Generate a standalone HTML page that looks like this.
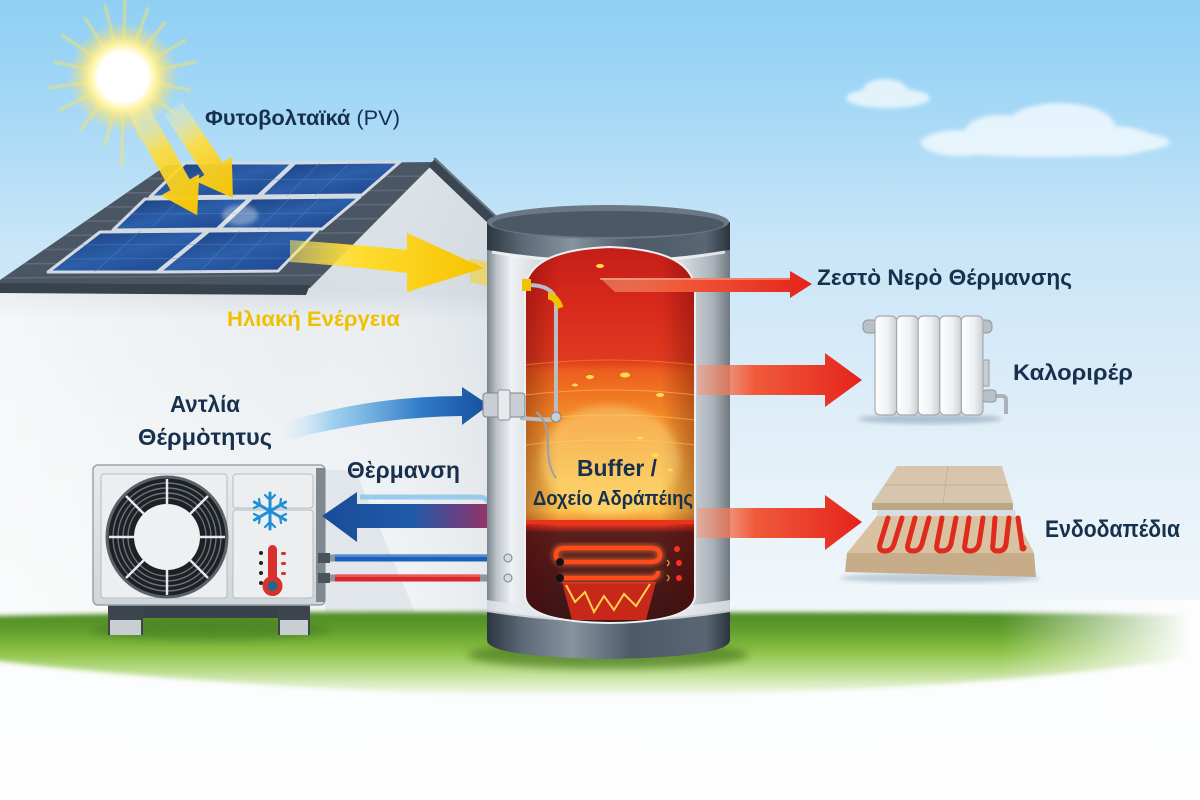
<!DOCTYPE html>
<html><head><meta charset="utf-8"><style>html,body{margin:0;padding:0;background:#fdfdfd}svg{display:block}</style></head>
<body>
<svg width="1200" height="800" viewBox="0 0 1200 800" xmlns="http://www.w3.org/2000/svg" font-family="'Liberation Sans','DejaVu Sans',sans-serif">
<defs>
 <linearGradient id="sky" x1="0" y1="0" x2="0" y2="800" gradientUnits="userSpaceOnUse">
  <stop offset="0" stop-color="#8fcff4"/>
  <stop offset="0.12" stop-color="#a2d7f6"/>
  <stop offset="0.3" stop-color="#c8e5f7"/>
  <stop offset="0.55" stop-color="#e2eff8"/>
  <stop offset="0.74" stop-color="#eff6fa"/>
  <stop offset="0.84" stop-color="#fcfdfe"/>
  <stop offset="1" stop-color="#fdfdfd"/>
 </linearGradient>
 <linearGradient id="wall" x1="0" y1="160" x2="0" y2="630" gradientUnits="userSpaceOnUse">
  <stop offset="0" stop-color="#dce3e8"/>
  <stop offset="0.28" stop-color="#d6dde3"/>
  <stop offset="0.34" stop-color="#eaeef1"/>
  <stop offset="1" stop-color="#f5f7f8"/>
 </linearGradient>
 <linearGradient id="wallH" x1="0" y1="0" x2="495" y2="0" gradientUnits="userSpaceOnUse">
  <stop offset="0" stop-color="#ffffff" stop-opacity="0.5"/>
  <stop offset="0.6" stop-color="#ffffff" stop-opacity="0"/>
  <stop offset="1" stop-color="#c9d1d8" stop-opacity="0.35"/>
 </linearGradient>
 <linearGradient id="panel" x1="0" y1="0" x2="1" y2="1">
  <stop offset="0" stop-color="#1a3c7c"/>
  <stop offset="0.5" stop-color="#2c5ea9"/>
  <stop offset="1" stop-color="#1b418a"/>
 </linearGradient>
 <radialGradient id="sunGlow" cx="0.5" cy="0.5" r="0.5">
  <stop offset="0" stop-color="#ffffff"/>
  <stop offset="0.45" stop-color="#ffffff"/>
  <stop offset="0.6" stop-color="#fff3a0"/>
  <stop offset="0.8" stop-color="#ffe46a" stop-opacity="0.45"/>
  <stop offset="1" stop-color="#ffe46a" stop-opacity="0"/>
 </radialGradient>
 <linearGradient id="ya" x1="0" y1="0" x2="1" y2="0">
  <stop offset="0" stop-color="#fff6b0" stop-opacity="0.2"/>
  <stop offset="0.4" stop-color="#ffdc3a" stop-opacity="0.9"/>
  <stop offset="1" stop-color="#f5c400"/>
 </linearGradient>
 <linearGradient id="yBig" x1="290" y1="0" x2="484" y2="0" gradientUnits="userSpaceOnUse">
  <stop offset="0" stop-color="#ffe860" stop-opacity="0.55"/>
  <stop offset="0.35" stop-color="#ffdc30"/>
  <stop offset="1" stop-color="#f6c300"/>
 </linearGradient>
 <linearGradient id="blueArr" x1="265" y1="0" x2="488" y2="0" gradientUnits="userSpaceOnUse">
  <stop offset="0" stop-color="#ffffff" stop-opacity="0"/>
  <stop offset="0.3" stop-color="#8cc8ee" stop-opacity="0.8"/>
  <stop offset="0.7" stop-color="#2e7bc8"/>
  <stop offset="1" stop-color="#174e9c"/>
 </linearGradient>
 <linearGradient id="dblArr" x1="322" y1="0" x2="522" y2="0" gradientUnits="userSpaceOnUse">
  <stop offset="0" stop-color="#1a4c98"/>
  <stop offset="0.45" stop-color="#1f5aa8"/>
  <stop offset="0.75" stop-color="#7a3a78"/>
  <stop offset="1" stop-color="#d62a40"/>
 </linearGradient>
 <linearGradient id="redArr" x1="0" y1="0" x2="1" y2="0">
  <stop offset="0" stop-color="#f49a7a" stop-opacity="0.55"/>
  <stop offset="0.35" stop-color="#f05a3a"/>
  <stop offset="1" stop-color="#e5231c"/>
 </linearGradient>
 <linearGradient id="unitG" x1="0" y1="0" x2="0" y2="1">
  <stop offset="0" stop-color="#e9ecee"/>
  <stop offset="1" stop-color="#d0d5d9"/>
 </linearGradient>
 <linearGradient id="tankBody" x1="487" y1="0" x2="730" y2="0" gradientUnits="userSpaceOnUse">
  <stop offset="0" stop-color="#7b848c"/>
  <stop offset="0.04" stop-color="#bcc3c9"/>
  <stop offset="0.1" stop-color="#eff2f4"/>
  <stop offset="0.22" stop-color="#d3d8dc"/>
  <stop offset="0.5" stop-color="#c6ccd1"/>
  <stop offset="0.8" stop-color="#dadee2"/>
  <stop offset="0.93" stop-color="#aab2b9"/>
  <stop offset="1" stop-color="#6f7880"/>
 </linearGradient>
 <linearGradient id="tankDark" x1="487" y1="0" x2="730" y2="0" gradientUnits="userSpaceOnUse">
  <stop offset="0" stop-color="#2c3640"/>
  <stop offset="0.15" stop-color="#5d6b78"/>
  <stop offset="0.35" stop-color="#8794a0"/>
  <stop offset="0.6" stop-color="#4c5966"/>
  <stop offset="0.9" stop-color="#5a6673"/>
  <stop offset="1" stop-color="#2a343e"/>
 </linearGradient>
 <linearGradient id="inner" x1="0" y1="247" x2="0" y2="623" gradientUnits="userSpaceOnUse">
  <stop offset="0" stop-color="#c41e18"/>
  <stop offset="0.15" stop-color="#d8281c"/>
  <stop offset="0.3" stop-color="#de3a1e"/>
  <stop offset="0.33" stop-color="#ec5e1e"/>
  <stop offset="0.45" stop-color="#f38c28"/>
  <stop offset="0.62" stop-color="#f9b844"/>
  <stop offset="0.7" stop-color="#fbc24c"/>
  <stop offset="0.725" stop-color="#f29a36"/>
  <stop offset="0.74" stop-color="#e2301e"/>
  <stop offset="0.76" stop-color="#5a1e1c"/>
  <stop offset="1" stop-color="#3a1414"/>
 </linearGradient>
 <linearGradient id="innerEdge" x1="525" y1="0" x2="695" y2="0" gradientUnits="userSpaceOnUse">
  <stop offset="0" stop-color="#500000" stop-opacity="0.35"/>
  <stop offset="0.2" stop-color="#500000" stop-opacity="0"/>
  <stop offset="0.8" stop-color="#500000" stop-opacity="0"/>
  <stop offset="1" stop-color="#500000" stop-opacity="0.35"/>
 </linearGradient>
 <linearGradient id="grass" x1="0" y1="612" x2="0" y2="700" gradientUnits="userSpaceOnUse">
  <stop offset="0" stop-color="#4c8a24"/>
  <stop offset="0.22" stop-color="#62a02e"/>
  <stop offset="0.45" stop-color="#8cc244"/>
  <stop offset="0.65" stop-color="#b6da84"/>
  <stop offset="0.85" stop-color="#e0f0cc"/>
  <stop offset="1" stop-color="#fdfdfd"/>
 </linearGradient>
 <linearGradient id="grassFade" x1="1000" y1="0" x2="1190" y2="0" gradientUnits="userSpaceOnUse">
  <stop offset="0" stop-color="#fdfdfd" stop-opacity="0"/>
  <stop offset="1" stop-color="#fdfdfd" stop-opacity="1"/>
 </linearGradient>
 <linearGradient id="radSec" x1="0" y1="0" x2="1" y2="0">
  <stop offset="0" stop-color="#ffffff"/>
  <stop offset="0.6" stop-color="#eef0f2"/>
  <stop offset="1" stop-color="#c9cfd4"/>
 </linearGradient>
 <filter id="b2" x="-20%" y="-20%" width="140%" height="140%"><feGaussianBlur stdDeviation="2"/></filter>
 <filter id="b3" x="-5%" y="-20%" width="110%" height="140%"><feGaussianBlur stdDeviation="2.5"/></filter>
 <filter id="b4" x="-30%" y="-30%" width="160%" height="160%"><feGaussianBlur stdDeviation="4"/></filter>
 <filter id="b1"><feGaussianBlur stdDeviation="1"/></filter>
 <clipPath id="roofClip"><polygon points="0,280 167,165 435,162 310,288 0,288"/></clipPath>
 <clipPath id="innerClip"><path d="M525,292 Q525,250 610,247 Q695,250 695,292 L695,595 Q695,622 610,623 Q525,622 525,595 Z"/></clipPath>
</defs>

<!-- sky -->
<rect width="1200" height="800" fill="url(#sky)"/>

<!-- clouds -->
<g fill="#ffffff" opacity="0.7" filter="url(#b2)">
 <ellipse cx="888" cy="98" rx="42" ry="10"/>
 <ellipse cx="885" cy="90" rx="22" ry="11"/>
 <ellipse cx="1045" cy="142" rx="125" ry="15"/>
 <ellipse cx="1060" cy="127" rx="55" ry="24"/>
 <ellipse cx="1000" cy="132" rx="35" ry="17"/>
 <ellipse cx="960" cy="143" rx="38" ry="13"/>
 <ellipse cx="1110" cy="141" rx="45" ry="15"/>
</g>

<!-- sun -->
<g stroke="#ffe55a" stroke-width="2" opacity="0.8" filter="url(#b1)" stroke-linecap="round">
 <line x1="123" y1="77" x2="125" y2="-5"/>
 <line x1="123" y1="77" x2="148" y2="8"/>
 <line x1="123" y1="77" x2="165" y2="22"/>
 <line x1="123" y1="77" x2="185" y2="40"/>
 <line x1="123" y1="77" x2="195" y2="62"/>
 <line x1="123" y1="77" x2="190" y2="90"/>
 <line x1="123" y1="77" x2="178" y2="115"/>
 <line x1="123" y1="77" x2="140" y2="140"/>
 <line x1="123" y1="77" x2="122" y2="165"/>
 <line x1="123" y1="77" x2="105" y2="145"/>
 <line x1="123" y1="77" x2="80" y2="130"/>
 <line x1="123" y1="77" x2="60" y2="110"/>
 <line x1="123" y1="77" x2="48" y2="88"/>
 <line x1="123" y1="77" x2="55" y2="62"/>
 <line x1="123" y1="77" x2="62" y2="35"/>
 <line x1="123" y1="77" x2="85" y2="18"/>
 <line x1="123" y1="77" x2="105" y2="5"/>
</g>
<circle cx="123" cy="77" r="55" fill="url(#sunGlow)"/>

<!-- house wall -->
<polygon points="0,285 433,168 495,228 495,628 0,628" fill="url(#wall)"/>
<polygon points="0,285 433,168 495,228 495,628 0,628" fill="url(#wallH)"/>
<polygon points="325,470 355,470 415,612 325,612" fill="#d7dee4" opacity="0.6"/>

<!-- roof -->
<polygon points="0,280 167,165 435,162 310,288 0,288" fill="#4a5663"/>
<g clip-path="url(#roofClip)" stroke="#5f6c78" stroke-width="1.5">
 <line x1="0" y1="180" x2="440" y2="176"/>
 <line x1="0" y1="194" x2="440" y2="190"/>
 <line x1="0" y1="208" x2="440" y2="204"/>
 <line x1="0" y1="222" x2="440" y2="218"/>
 <line x1="0" y1="236" x2="440" y2="232"/>
 <line x1="0" y1="250" x2="440" y2="246"/>
 <line x1="0" y1="264" x2="440" y2="260"/>
 <line x1="0" y1="278" x2="440" y2="274"/>
</g>
<polygon points="0,283 310,285 306,295 0,293" fill="#37424d"/>
<line x1="432" y1="162" x2="500" y2="227" stroke="#3a4652" stroke-width="11"/>
<line x1="434" y1="158" x2="502" y2="222" stroke="#6a7784" stroke-width="2"/>

<!-- solar panels -->
<g stroke="#d3dae1" stroke-width="3" fill="url(#panel)" stroke-linejoin="round">
 <polygon points="185,163 293,163 258,196 150,197"/>
 <polygon points="295,163 400,162 362,195 260,196"/>
 <polygon points="145,199 250,198 217,229 113,230"/>
 <polygon points="252,198 360,197 322,229 219,229"/>
 <polygon points="100,232 207,231 157,272 48,272"/>
 <polygon points="209,231 318,230 278,271 159,272"/>
</g>
<g stroke="#5d8cc8" stroke-width="0.8" opacity="0.5">
 <line x1="175" y1="180" x2="380" y2="179"/>
 <line x1="130" y1="214" x2="340" y2="213"/>
 <line x1="80" y1="245" x2="305" y2="244"/>
 <line x1="70" y1="259" x2="292" y2="258"/>
 <line x1="320" y1="163" x2="287" y2="196"/>
 <line x1="350" y1="163" x2="315" y2="196"/>
 <line x1="240" y1="231" x2="200" y2="271"/>
 <line x1="270" y1="231" x2="230" y2="271"/>
 <line x1="140" y1="231" x2="95" y2="272"/>
 <line x1="290" y1="198" x2="258" y2="229"/>
 <line x1="320" y1="198" x2="288" y2="229"/>
 <line x1="180" y1="199" x2="150" y2="229"/>
</g>
<ellipse cx="240" cy="215" rx="18" ry="10" fill="#ffffff" opacity="0.35" filter="url(#b2)"/>

<!-- sun arrows -->
<g transform="translate(137,108) rotate(60.7)">
 <path d="M0,-11 L88,-11 L88,-22 L123,0 L88,22 L88,11 L0,11Z" fill="url(#ya)"/>
</g>
<g transform="translate(173,108) rotate(56.3)">
 <path d="M0,-11 L73,-11 L73,-22 L108,0 L73,22 L73,11 L0,11Z" fill="url(#ya)"/>
</g>

<!-- big yellow arrow -->
<polygon points="470,258 530,272 530,296 470,282" fill="#f5d020" opacity="0.55"/>
<path d="M290,240 Q350,244 407,250 L407,233 L484,268 L407,292 L407,273 Q350,266 290,262 Z" fill="url(#yBig)"/>

<!-- grass -->
<g filter="url(#b3)">
 <path d="M-10,616 Q300,610 600,613 Q900,611 1210,615 L1210,655 Q1000,688 700,694 Q600,696 400,692 Q150,680 -10,660 Z" fill="url(#grass)"/>
</g>
<rect x="990" y="600" width="210" height="110" fill="url(#grassFade)"/>
<ellipse cx="210" cy="630" rx="120" ry="10" fill="#3d6e1a" opacity="0.45" filter="url(#b4)"/>
<ellipse cx="608" cy="655" rx="140" ry="14" fill="#3a6818" opacity="0.55" filter="url(#b4)"/>

<!-- heat pump unit -->
<rect x="108" y="603" width="202" height="15" fill="#39424a"/>
<rect x="108" y="603" width="35" height="32" fill="#3c454d"/>
<rect x="110" y="620" width="31" height="15" fill="#c9ced2"/>
<rect x="278" y="603" width="32" height="32" fill="#3c454d"/>
<rect x="280" y="620" width="28" height="15" fill="#c9ced2"/>
<rect x="93" y="465" width="232" height="140" rx="5" fill="url(#unitG)" stroke="#9aa3aa" stroke-width="1.5"/>
<rect x="316" y="468" width="9" height="134" fill="#80898f"/>
<rect x="101" y="474" width="126" height="124" rx="3" fill="#eceef0" stroke="#b5bcc2"/>
<rect x="233" y="474" width="80" height="34" rx="3" fill="#eceef0" stroke="#b5bcc2"/>
<rect x="233" y="510" width="80" height="88" rx="3" fill="#eceef0" stroke="#b5bcc2"/>
<circle cx="167" cy="537" r="60" fill="#1d2125" stroke="#5a6268" stroke-width="3"/>
<g fill="none" stroke="#6b737a" stroke-width="1.4">
 <circle cx="167" cy="537" r="54"/><circle cx="167" cy="537" r="49"/>
 <circle cx="167" cy="537" r="44"/><circle cx="167" cy="537" r="39"/>
</g>
<g stroke="#e6eaed" stroke-width="2.5">
 <line x1="167" y1="504" x2="167" y2="479"/>
 <line x1="190" y1="514" x2="208" y2="496"/>
 <line x1="200" y1="537" x2="225" y2="537"/>
 <line x1="190" y1="560" x2="208" y2="578"/>
 <line x1="167" y1="570" x2="167" y2="595"/>
 <line x1="144" y1="560" x2="126" y2="578"/>
 <line x1="134" y1="537" x2="109" y2="537"/>
 <line x1="144" y1="514" x2="126" y2="496"/>
</g>
<circle cx="167" cy="537" r="33" fill="#eef0f2"/>
<!-- snowflake -->
<g stroke="#1e8fd4" stroke-width="3" stroke-linecap="round" transform="translate(270,511)">
 <line x1="0" y1="-18" x2="0" y2="18"/>
 <line x1="-15.6" y1="-9" x2="15.6" y2="9"/>
 <line x1="-15.6" y1="9" x2="15.6" y2="-9"/>
 <path d="M-5,-16 L0,-11 L5,-16 M-5,16 L0,11 L5,16 M-16,-3 L-10,-6 L-11,-12 M16,3 L10,6 L11,12 M-16,3 L-10,6 L-11,12 M16,-3 L10,-6 L11,-12" fill="none" stroke-width="2.2"/>
</g>
<!-- thermometer -->
<rect x="268" y="545" width="9" height="38" rx="4.5" fill="#d8302c"/>
<circle cx="272.5" cy="586" r="10" fill="#d8302c"/>
<circle cx="272.5" cy="586" r="5" fill="#1f6a8a"/>
<g fill="#222"><circle cx="261" cy="553" r="2"/><circle cx="261" cy="563" r="2"/><circle cx="261" cy="573" r="2"/><circle cx="261" cy="583" r="2"/></g>
<g fill="#d8302c"><rect x="281" y="552" width="5" height="3" rx="1.5"/><rect x="281" y="562" width="5" height="3" rx="1.5"/><rect x="281" y="572" width="5" height="3" rx="1.5"/></g>

<!-- pipes from unit -->
<rect x="318" y="553" width="12" height="10" fill="#4a535b"/>
<rect x="318" y="573" width="12" height="10" fill="#4a535b"/>
<line x1="330" y1="558" x2="565" y2="558" stroke="#8d949a" stroke-width="7"/>
<line x1="330" y1="578" x2="565" y2="578" stroke="#8d949a" stroke-width="7"/>
<line x1="335" y1="558" x2="492" y2="558" stroke="#1f5fb8" stroke-width="7"/>
<line x1="335" y1="556" x2="492" y2="556" stroke="#5c9ae0" stroke-width="1.5"/>
<line x1="335" y1="578" x2="480" y2="578" stroke="#d8262a" stroke-width="7"/>
<line x1="335" y1="576" x2="480" y2="576" stroke="#f06a6a" stroke-width="1.5"/>

<!-- heat pump blue arrow -->
<path d="M268,428 Q360,396 462,396 L462,387 L489,405 L462,425 L462,416 Q370,417 272,444 Z" fill="url(#blueArr)"/>

<!-- double arrow -->
<path d="M360,497 L478,497 Q490,497 490,509 L490,560" fill="none" stroke="#8ec8ea" stroke-width="5" opacity="0.9"/>
<path d="M322,516 L357,492 L357,504 L495,504 L495,500 L523,519 L495,540 L495,528 L357,528 L357,542 Z" fill="url(#dblArr)"/>

<!-- tank -->
<path d="M487,232 L730,232 L730,640 Q730,656 608,658 Q487,656 487,640 Z" fill="url(#tankBody)"/>
<path d="M487,610 Q608,630 730,610 L730,640 Q730,657 608,659 Q487,657 487,640 Z" fill="url(#tankDark)"/>
<path d="M487,600 Q608,620 730,600 L730,612 Q608,632 487,612 Z" fill="#e6eaed" opacity="0.8"/>
<path d="M487,222 L487,250 Q608,270 730,250 L730,222 Z" fill="url(#tankDark)"/>
<ellipse cx="608" cy="222" rx="121" ry="17" fill="#6a7784"/>
<ellipse cx="608" cy="224" rx="116" ry="13" fill="#4b5865"/>
<path d="M492,252 Q608,272 725,252" fill="none" stroke="#f0f3f5" stroke-width="3" opacity="0.8"/>

<!-- tank inner -->
<g clip-path="url(#innerClip)">
 <rect x="520" y="240" width="180" height="390" fill="url(#inner)"/>
 <rect x="520" y="240" width="180" height="390" fill="url(#innerEdge)"/>
 <ellipse cx="610" cy="460" rx="70" ry="55" fill="#fff0a0" opacity="0.35" filter="url(#b4)"/>
 <g stroke="#ffcf70" stroke-width="1" opacity="0.5" fill="none">
  <path d="M525,395 Q610,385 695,395"/><path d="M525,420 Q610,410 695,420"/>
  <path d="M525,445 Q610,435 695,445"/><path d="M525,365 Q610,355 695,365" stroke="#f6a040"/>
 </g>
 <g fill="#ffdc50">
  <ellipse cx="590" cy="377" rx="4" ry="2"/><ellipse cx="625" cy="375" rx="5" ry="2.5"/>
  <ellipse cx="575" cy="385" rx="3" ry="1.5"/><ellipse cx="660" cy="395" rx="4" ry="2"/>
  <ellipse cx="655" cy="455" rx="4" ry="2"/><ellipse cx="640" cy="438" rx="3" ry="1.5"/>
  <ellipse cx="600" cy="266" rx="4" ry="2"/><ellipse cx="670" cy="470" rx="3" ry="1.5"/>
 </g>
 <line x1="525" y1="522" x2="695" y2="522" stroke="#e8341c" stroke-width="4"/>
 <!-- flame -->
 <polygon points="562,582 656,582 646,620 572,620" fill="#c8281a"/>
 <polyline points="566,585 575,602 585,592 594,612 604,596 614,610 624,594 636,606 650,584" fill="none" stroke="#ffd04a" stroke-width="2"/>
 <!-- coil -->
 <path d="M565,562 Q556,562 556,555 Q556,548 565,548 L650,548 Q660,548 660,555 Q660,562 650,562 L565,562 M560,578 L650,578 Q658,578 658,571" fill="none" stroke="#ff8040" stroke-width="9" opacity="0.45" filter="url(#b2)"/>
 <path d="M565,562 Q556,562 556,555 Q556,548 565,548 L650,548 Q660,548 660,555 Q660,562 650,562 L565,562 M560,578 L650,578 Q658,578 658,571" fill="none" stroke="#ff4a1a" stroke-width="4.5"/>
 <circle cx="560" cy="562" r="4" fill="#111"/>
 <circle cx="560" cy="578" r="4" fill="#111"/>
 <g fill="#ff3020"><circle cx="677" cy="549" r="3"/><circle cx="679" cy="563" r="3"/><circle cx="679" cy="578" r="3"/></g>
 <g fill="none" stroke="#e6a030" stroke-width="1.2"><path d="M667,560 q4,3 0,6"/><path d="M667,575 q4,3 0,6"/></g>
</g>
<path d="M525,292 Q525,250 610,247 Q695,250 695,292 L695,595 Q695,622 610,623 Q525,622 525,595 Z" fill="none" stroke="#eef1f3" stroke-width="2"/>
<circle cx="508" cy="558" r="4" fill="#d6dbdf" stroke="#7a8288"/>
<circle cx="508" cy="578" r="4" fill="#d6dbdf" stroke="#7a8288"/>

<!-- internal pipe + fitting -->
<path d="M528,285 Q552,285 556,300 L556,412 Q556,420 548,420 L520,418" fill="none" stroke="#b8bec4" stroke-width="4"/>
<rect x="522" y="279" width="9" height="12" fill="#f2c200"/>
<path d="M548,296 Q556,296 560,308" fill="none" stroke="#f2c200" stroke-width="7"/>
<circle cx="556" cy="417" r="5" fill="#c8ced3" stroke="#7d858c"/>
<path d="M536,412 Q548,420 548,445 Q548,468 556,478" fill="none" stroke="#9aa2a8" stroke-width="2"/>
<rect x="483" y="393" width="42" height="24" rx="3" fill="#c8ced3" stroke="#7d858c"/>
<rect x="498" y="390" width="12" height="30" rx="2" fill="#e6eaed" stroke="#8a9299"/>

<!-- right arrows -->
<polygon points="600,278 790,278 790,271 812,284 790,298 790,292 615,292" fill="url(#redArr)"/>
<line x1="600" y1="279" x2="790" y2="279" stroke="#ffd0b0" stroke-width="1.2" opacity="0.7"/>
<polygon points="697,365 825,365 825,353 862,380 825,407 825,395 697,395" fill="url(#redArr)"/>
<polygon points="697,508 825,508 825,495 862,522 825,550 825,538 697,538" fill="url(#redArr)"/>

<!-- radiator -->
<ellipse cx="930" cy="419" rx="72" ry="5" fill="#8fa3b6" opacity="0.6" filter="url(#b2)"/>
<rect x="863" y="320" width="15" height="13" rx="5" fill="#b9c0c6" stroke="#8f989f"/>
<rect x="979" y="320" width="13" height="13" rx="5" fill="#b9c0c6" stroke="#8f989f"/>
<rect x="983" y="360" width="6" height="26" fill="#c8ced3" stroke="#98a0a6"/>
<path d="M996,396 L1002,396 Q1006,396 1006,400 L1006,414" fill="none" stroke="#aab2b8" stroke-width="4"/>
<rect x="983" y="390" width="13" height="12" rx="3" fill="#b9c0c6" stroke="#8f989f"/>
<g fill="url(#radSec)" stroke="#a3abb2" stroke-width="1.2">
 <rect x="875" y="316" width="21.6" height="99" rx="5"/>
 <rect x="896.6" y="316" width="21.6" height="99" rx="5"/>
 <rect x="918.2" y="316" width="21.6" height="99" rx="5"/>
 <rect x="939.8" y="316" width="21.6" height="99" rx="5"/>
 <rect x="961.4" y="316" width="21.6" height="99" rx="5"/>
</g>

<!-- floor -->
<ellipse cx="940" cy="578" rx="100" ry="5" fill="#8fa3b6" opacity="0.5" filter="url(#b2)"/>
<polygon points="877,516 1015,516 1034,553 847,553" fill="#d8c2a2"/>
<polygon points="847,553 1034,553 1036,577 845,572" fill="#c6ac89"/>
<polygon points="877,510 1015,510 1016,516 877,516" fill="#d8dde2"/>
<polygon points="872,503 897,466 1002,466 1013,503" fill="#d7c6ad"/>
<line x1="948" y1="466" x2="943" y2="503" stroke="#c4b197" stroke-width="1"/>
<line x1="885" y1="485" x2="1008" y2="485" stroke="#c4b197" stroke-width="1"/>
<polygon points="872,503 1013,503 1013,510 872,510" fill="#bba786"/>
<g fill="none" stroke="#e02a1e" stroke-width="5" stroke-linecap="round">
 <path d="M888,518 L880,544 Q878,551 885,551 Q892,551 894,544 L902,518"/>
 <path d="M915,518 L908,544 Q906,551 913,551 Q920,551 922,544 L929,518"/>
 <path d="M942,518 L937,544 Q935,551 942,551 Q949,551 951,544 L956,518"/>
 <path d="M969,518 L965,544 Q963,551 970,551 Q977,551 979,544 L983,518"/>
 <path d="M995,518 L993,544 Q991,551 998,551 Q1005,551 1006,544 L1009,518"/>
 <path d="M1018,518 L1022,546"/>
</g>
<circle cx="1023" cy="548" r="3.5" fill="#e02a1e"/>

<!-- labels -->
<text x="205" y="125" font-size="21" font-weight="bold" fill="#17304e" textLength="195" lengthAdjust="spacingAndGlyphs">Φυτοβολταϊκά <tspan font-weight="normal">(PV)</tspan></text>
<text x="227" y="326" font-size="21" font-weight="bold" fill="#f0c000" textLength="173" lengthAdjust="spacingAndGlyphs">Ηλιακή Ενέργεια</text>
<text x="170" y="412" font-size="23" font-weight="bold" fill="#17304e" textLength="70" lengthAdjust="spacingAndGlyphs">Αντλία</text>
<text x="138" y="445" font-size="23" font-weight="bold" fill="#17304e" textLength="134" lengthAdjust="spacingAndGlyphs">Θέρμὸτητυς</text>
<text x="347" y="478" font-size="23" font-weight="bold" fill="#17304e" textLength="113" lengthAdjust="spacingAndGlyphs">Θὲρμανση</text>
<text x="577" y="476" font-size="23" font-weight="bold" fill="#17304e" textLength="80" lengthAdjust="spacingAndGlyphs">Buffer /</text>
<text x="533" y="505" font-size="20" font-weight="bold" fill="#17304e" textLength="160" lengthAdjust="spacingAndGlyphs">Δοχείο Αδράπέιης</text>
<text x="817" y="285" font-size="22" font-weight="bold" fill="#17304e" textLength="255" lengthAdjust="spacingAndGlyphs">Ζεστὸ Νερὸ Θέρμανσης</text>
<text x="1013" y="380" font-size="22" font-weight="bold" fill="#17304e" textLength="120" lengthAdjust="spacingAndGlyphs">Καλοριρέρ</text>
<text x="1045" y="537" font-size="24" font-weight="bold" fill="#17304e" textLength="135" lengthAdjust="spacingAndGlyphs">Ενδοδαπέδια</text>
</svg>
</body></html>
